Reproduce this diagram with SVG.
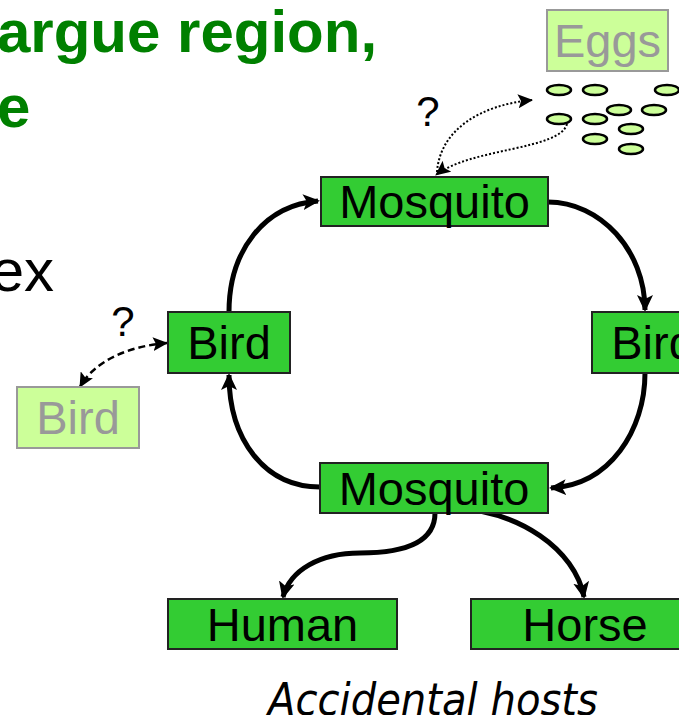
<svg xmlns="http://www.w3.org/2000/svg" width="679" height="715" viewBox="0 0 679 715">
<style>
.box{fill:#33cc33;stroke:#222;stroke-width:2}
.pale{fill:#ccff99;stroke:#999;stroke-width:2}
.lbl{font-family:"Liberation Sans",Arial,sans-serif;font-size:47px;fill:#000;text-anchor:middle}
.plbl{font-family:"Liberation Sans",Arial,sans-serif;font-size:47px;fill:#999;text-anchor:middle}
.thick{fill:none;stroke:#000;stroke-width:5;marker-end:url(#ah)}
.dot{fill:none;stroke:#000;stroke-width:2;stroke-dasharray:2 2}
.dash{fill:none;stroke:#000;stroke-width:2.5;stroke-dasharray:7 4}
.egg{fill:#ccff99;stroke:#000;stroke-width:2.5}
.q{font-family:"Liberation Sans",Arial,sans-serif;font-size:42px;fill:#000;text-anchor:middle}
</style>
<defs>
<marker id="ah" markerUnits="userSpaceOnUse" markerWidth="18" markerHeight="16" refX="15" refY="8" orient="auto">
<path d="M0,0 L17,8 L0,16 L4,8 z" fill="#000"/>
</marker>
<marker id="sh" markerUnits="userSpaceOnUse" markerWidth="16" markerHeight="14" refX="14" refY="7" orient="auto-start-reverse">
<path d="M0,0 L15,7 L0,14 L3,7 z" fill="#000"/>
</marker>
</defs>

<text x="-3" y="52" font-family="Liberation Sans,Arial,sans-serif" font-size="60" font-weight="bold" fill="#008000">argue region,</text>
<text x="-3" y="127" font-family="Liberation Sans,Arial,sans-serif" font-size="60" font-weight="bold" fill="#008000">e</text>
<text x="54" y="291" font-family="Liberation Sans,Arial,sans-serif" font-size="60" fill="#000" text-anchor="end">ex</text>

<g id="connectors">
<path class="thick" d="M229,312 C229,250 265,205 318,201"/>
<path class="thick" d="M548,202 C600,202 645,250 645,310"/>
<path class="thick" d="M645,373 C645,430 610,485 551,488"/>
<path class="thick" d="M320,487 C265,487 229,440 229,375"/>
<path class="thick" d="M435,513 C435,545 400,553 360,553 C320,553 290,570 283,597"/>
<path class="thick" d="M427,508 L450,508 C520,510 575,550 584,597"/>
<path class="dot" marker-end="url(#sh)" d="M437,172 C440,130 480,105 532,100"/>
<path class="dot" marker-end="url(#sh)" d="M567,124 C560,150 470,148 436,175"/>
<path class="dash" marker-start="url(#sh)" marker-end="url(#sh)" d="M167,343 C130,346 95,360 80,387"/>
</g>

<text class="q" x="428" y="126">?</text>
<text class="q" x="123" y="336">?</text>

<g id="eggs-box"><rect class="pale" x="547" y="10" width="121" height="61"/><text class="plbl" x="607.5" y="57">Eggs</text></g>
<g id="eggs">
<ellipse class="egg" cx="559" cy="90" rx="12" ry="5"/>
<ellipse class="egg" cx="595" cy="90" rx="12" ry="5"/>
<ellipse class="egg" cx="667" cy="90" rx="12" ry="5"/>
<ellipse class="egg" cx="619" cy="110" rx="12" ry="5"/>
<ellipse class="egg" cx="654" cy="110" rx="12" ry="5"/>
<ellipse class="egg" cx="559" cy="119" rx="12" ry="5"/>
<ellipse class="egg" cx="595" cy="119" rx="12" ry="5"/>
<ellipse class="egg" cx="631" cy="129" rx="12" ry="5"/>
<ellipse class="egg" cx="595" cy="139" rx="12" ry="5"/>
<ellipse class="egg" cx="631" cy="149" rx="12" ry="5"/>
</g>

<g id="mosquito-top"><rect class="box" x="321" y="177" width="227" height="49"/><text class="lbl" x="434.5" y="218">Mosquito</text></g>
<g id="bird-left"><rect class="box" x="168" y="312" width="122" height="61"/><text class="lbl" x="229" y="359">Bird</text></g>
<g id="bird-right"><rect class="box" x="592" y="312" width="122" height="61"/><text class="lbl" x="653" y="359">Bird</text></g>
<g id="bird-pale"><rect class="pale" x="17" y="387" width="122" height="61"/><text class="plbl" x="78" y="434">Bird</text></g>
<g id="mosquito-bottom"><rect class="box" x="320" y="463" width="228" height="50"/><text class="lbl" x="434" y="505">Mosquito</text></g>
<g id="human"><rect class="box" x="168" y="599" width="229" height="50"/><text class="lbl" x="282.5" y="641">Human</text></g>
<g id="horse"><rect class="box" x="471" y="599" width="228" height="50"/><text class="lbl" x="585" y="641">Horse</text></g>

<text x="268" y="715" font-family="DejaVu Sans Condensed,DejaVu Sans,Verdana,sans-serif" font-style="italic" font-size="45" fill="#000" textLength="330" lengthAdjust="spacingAndGlyphs">Accidental hosts</text>
</svg>
